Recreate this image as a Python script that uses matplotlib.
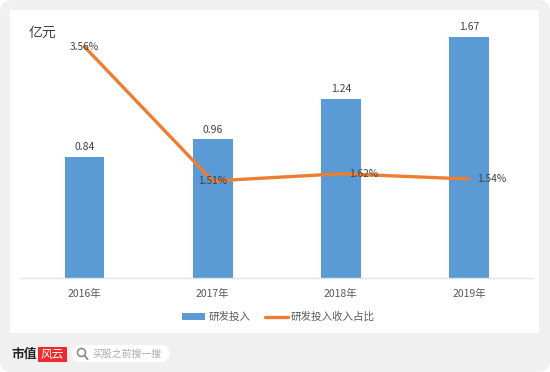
from matplotlib import pyplot as plt
from matplotlib.patches import Circle, FancyBboxPatch, Rectangle
import numpy as np

plt.rcParams['font.family'] = ['Noto Sans CJK SC', 'DejaVu Sans']

years = ["2016年", "2017年", "2018年", "2019年"]
invest = [0.84, 0.96, 1.24, 1.67]
ratio = [3.56, 1.51, 1.62, 1.54]
ratio_labels = ["3.56%", "1.51%", "1.62%", "1.54%"]
label_shift = [0, 0, 16.5, 16.5]

W, H = 550, 372
fig = plt.figure(figsize=(W / 100, H / 100), dpi=100, facecolor="white")

# page furniture, drawn in pixel coordinates
bg = fig.add_axes([0, 0, 1, 1])
bg.set_xlim(0, W)
bg.set_ylim(H, 0)
bg.axis("off")
bg.add_patch(FancyBboxPatch((12, 12), W - 24, H - 24, boxstyle="round,pad=12,rounding_size=12",
                            fc="#f0f0f0", ec="none"))
bg.add_patch(Rectangle((10, 10), 529, 323, fc="white", ec="none"))
bg.text(11, 354.5, "市值", fontsize=9.2, fontweight="bold", color="#222222", va="center", ha="left")
bg.add_patch(Rectangle((38, 347), 28.5, 15, fc="#ee2a2e", ec="none"))
bg.text(52, 354.5, "风云", fontsize=8.5, color="white", style="italic", va="center", ha="center")
bg.add_patch(FancyBboxPatch((72, 345), 97.5, 17, boxstyle="round,pad=0,rounding_size=8.5",
                            fc="white", ec="none"))
bg.add_patch(Circle((81.5, 352.5), 4, fc="none", ec="#8c8c8c", lw=1.2))
bg.plot([84.5, 87.5], [355.5, 359], color="#8c8c8c", lw=1.3)
bg.text(92, 354, "买股之前搜一搜", fontsize=7.1, color="#a8a8a8", va="center", ha="left")

# chart area: x 20.5-533, y 20-278 px
ax = fig.add_axes([20.5 / W, (H - 278) / H, 512.5 / W, 258 / H])
ax.patch.set_alpha(0)
x = np.arange(len(years))
bars = ax.bar(x, invest, width=0.31, color="#5b9bd5", label="研发投入", zorder=2)
ax.set_xlim(-0.5, 3.5)
ax.set_ylim(0, 1.788)
ax.set_yticks([])
ax.set_xticks(x)
ax.set_xticklabels(years, fontsize=7.5, color="#595959", fontweight="medium")
ax.tick_params(axis="x", length=0, pad=8)
for s in ["top", "left", "right"]:
    ax.spines[s].set_visible(False)
ax.spines["bottom"].set_color("#e2e2e2")
ax.spines["bottom"].set_linewidth(1.0)
for xi, v in zip(x, invest):
    ax.annotate(f"{v:.2f}", (xi, v), xytext=(0, 3.5), textcoords="offset points",
                ha="center", va="bottom", fontsize=7.5, color="#404040", fontweight="medium")

ax2 = ax.twinx()
ax2.patch.set_alpha(0)
line, = ax2.plot(x, ratio, color="#ed7d31", lw=2.4, label="研发投入收入占比", zorder=3,
                 solid_capstyle="round")
ax2.set_ylim(0.027, 3.97)
ax2.set_yticks([])
for s in ["top", "left", "right", "bottom"]:
    ax2.spines[s].set_visible(False)
for xi, v, lab, dx in zip(x, ratio, ratio_labels, label_shift):
    ax2.annotate(lab, (xi, v), xytext=(dx, 0), textcoords="offset points",
                 ha="center", va="center", fontsize=7.3, color="#404040", zorder=4)

bg.text(29, 33, "亿元", fontsize=10, color="#404040", va="center", ha="left", zorder=5)

fig.legend(handles=[bars, line], labels=["研发投入", "研发投入收入占比"], loc="center",
           bbox_to_anchor=(278.5 / W, (H - 317) / H), ncol=2, frameon=False, fontsize=7.6,
           labelcolor="#595959", handlelength=2.2, handletextpad=0.3, columnspacing=1.35,
           handleheight=0.6)

fig.savefig("out.png", dpi=100)
